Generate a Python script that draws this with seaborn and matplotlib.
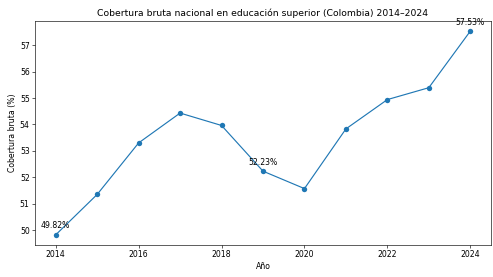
import matplotlib
matplotlib.use("Agg")
import matplotlib.pyplot as plt
import seaborn as sns
import pandas as pd

years = [2014, 2015, 2016, 2017, 2018, 2019, 2020, 2021, 2022, 2023, 2024]
coverage = [49.82, 51.35, 53.30, 54.43, 53.96, 52.23, 51.57, 53.83, 54.94, 55.39, 57.53]
labeled_years = [2014, 2019, 2024]

df = pd.DataFrame({"Año": years, "Cobertura": coverage})

W, H = 8.9, 8.9 * 277 / 493
DPI = 493 / W
fig, ax = plt.subplots(figsize=(W, H), dpi=DPI)
sns.lineplot(data=df, x="Año", y="Cobertura", marker="o", markersize=7,
             markeredgewidth=0, color="#1f77b4", linewidth=1.5, ax=ax)

for yr, val in zip(years, coverage):
    if yr in labeled_years:
        ax.annotate(f"{val:.2f}%", (yr, val), textcoords="offset points",
                    xytext=(0, 6), ha="center", va="bottom", fontsize=10)

ax.set_title("Cobertura bruta nacional en educación superior (Colombia) 2014–2024", fontsize=12)
ax.set_xlabel("Año")
ax.set_ylabel("Cobertura bruta (%)")
fig.subplots_adjust(left=35 / 493, right=491 / 493, top=1 - 21 / 277, bottom=1 - 245 / 277)
fig.savefig("out.png", dpi=DPI)
